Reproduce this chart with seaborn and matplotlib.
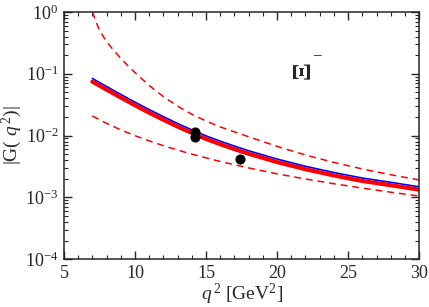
import numpy as np
import seaborn as sns
import matplotlib
matplotlib.use("Agg")
import matplotlib.pyplot as plt
from matplotlib.ticker import MultipleLocator, LogLocator, LogFormatterSciNotation, NullFormatter

# values (q^2 in GeV^2, |G(q^2)|)
q2_red = [7, 8, 9, 10, 11, 12, 13, 14, 15, 16, 17, 18, 20, 22, 24, 26, 28, 30]
g_red = [0.0745, 0.0553, 0.0412, 0.0309, 0.0234, 0.0180, 0.01396, 0.01102, 0.00881,
         0.00724, 0.00603, 0.00507, 0.00372, 0.00285, 0.00226, 0.00184, 0.00157, 0.00133]

q2_blue = [7, 8, 9, 10, 11, 12, 13, 14, 15, 16, 17, 18, 20, 22, 24, 26, 28, 30]
g_blue = [0.0840, 0.0622, 0.0463, 0.0347, 0.0263, 0.0202, 0.01566, 0.01236, 0.00988,
          0.00811, 0.00675, 0.00567, 0.00416, 0.00318, 0.00252, 0.00205, 0.00175, 0.00148]

q2_upper = [7, 7.5, 8, 8.5, 9, 9.5, 10, 11, 12, 13, 14, 15, 16, 18, 20, 22, 24, 26, 28, 30]
g_upper = [1.0, 0.501, 0.331, 0.240, 0.178, 0.135, 0.1047, 0.0646, 0.0427, 0.0299,
           0.0221, 0.0172, 0.0138, 0.00955, 0.00668, 0.00484, 0.00367, 0.00288, 0.00232, 0.00191]

q2_lower = [7, 8, 9, 10, 11, 12, 13, 14, 16, 18, 20, 22, 24, 26, 28, 30]
g_lower = [0.0207, 0.01574, 0.01236, 0.00995, 0.00820, 0.00686, 0.00582, 0.00500,
           0.00380, 0.00299, 0.00240, 0.00198, 0.00166, 0.00141, 0.00121, 0.00105]

q2_data = [14.2, 14.2, 17.4]
g_data = [0.0113, 0.0095, 0.0041]

sns.set_style("ticks")
plt.rcParams["font.family"] = ["Liberation Serif", "DejaVu Serif"]
plt.rcParams["mathtext.fontset"] = "custom"
plt.rcParams["mathtext.rm"] = "Liberation Serif"
plt.rcParams["mathtext.it"] = "Liberation Serif:italic"
plt.rcParams["mathtext.bf"] = "Liberation Serif:bold"

fig = plt.figure(figsize=(4.29, 3.07), dpi=100)
ax = fig.add_axes([0.149, 0.156, 0.828, 0.805])

# dashed band curves
sns.lineplot(x=q2_upper, y=g_upper, ax=ax, color="red", lw=1.1)
sns.lineplot(x=q2_lower, y=g_lower, ax=ax, color="red", lw=1.1)
for line in ax.lines:
    line.set_dashes([4.5, 3.2])
sns.lineplot(x=q2_blue, y=g_blue, ax=ax, color="blue", lw=1.2)
sns.lineplot(x=q2_red, y=g_red, ax=ax, color="red", lw=3.0)
sns.scatterplot(x=q2_data, y=g_data, ax=ax, color="black", s=45, edgecolor="black", zorder=5)

ax.set_yscale("log")
ax.set_xlim(5, 30)
ax.set_ylim(1e-4, 1)
ax.xaxis.set_major_locator(MultipleLocator(5))
ax.xaxis.set_minor_locator(MultipleLocator(1))
ax.yaxis.set_major_locator(LogLocator(base=10, numticks=10))
ax.yaxis.set_minor_locator(LogLocator(base=10, subs=np.arange(2, 10), numticks=20))
ax.yaxis.set_major_formatter(LogFormatterSciNotation())
ax.yaxis.set_minor_formatter(NullFormatter())

ax.tick_params(which="both", direction="in", top=True, right=True, labelsize=13, pad=4)
ax.tick_params(which="major", length=6, width=1)
ax.tick_params(which="minor", length=3, width=0.8)
for sp in ax.spines.values():
    sp.set_linewidth(1.1)

ax.set_xlabel(r"$\mathit{q}^{\,2}$ [GeV$^2$]", fontsize=14, labelpad=0)
ax.set_ylabel(r"|G( $\mathit{q}^{\,2}$)|", fontsize=14)
ax.yaxis.set_label_coords(-0.112, 0.5)

fig.text(303 / 429, 1 - 70 / 307, "\u039e", rotation=90, ha="center", va="center",
         fontsize=19, fontweight="bold")
fig.text(317 / 429, 1 - 56 / 307, "\u2212", ha="center", va="center", fontsize=12)

fig.savefig("out.png", dpi=100)
